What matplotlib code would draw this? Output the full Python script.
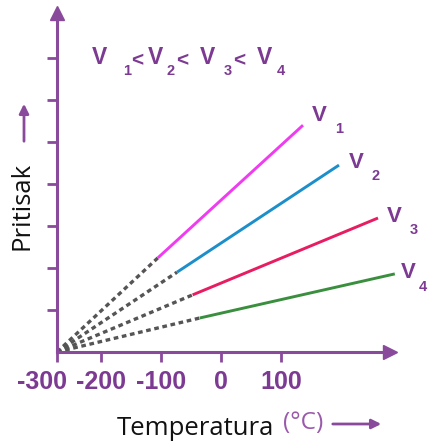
import matplotlib
matplotlib.use("Agg")
import matplotlib.pyplot as plt
from matplotlib.transforms import ScaledTranslation

# data (temperature in degC, pressure in arbitrary units)
volumes = ["1", "2", "3", "4"]
t_zero = -273
t_start = [-105, -73, -47, -35]
t_end = [137, 197, 262, 290]
p_start = [2.24, 1.90, 1.36, 0.81]
p_end = [5.40, 4.45, 3.19, 1.86]
colors = ["#f03cf0", "#1c8fcb", "#e81c62", "#3a8f3e"]
x_ticks = [-273, -200, -100, 0, 100]
x_ticklabels = ["-300", "-200", "-100", "0", "100"]
y_ticks = [1, 2, 3, 4, 5, 6, 7]

PURPLE = "#8a4a9c"
TXT_PURPLE = "#7c3a92"
W, H = 429, 445

fig = plt.figure(figsize=(W / 100, H / 100), dpi=100)
ax = fig.add_axes([57 / W, 93 / H, (390 - 57) / W, (432 - 93) / H])
ax.set_xlim(t_zero, 282)
ax.set_ylim(0, (352 - 13) / 42)

# dotted extrapolation to absolute zero, then the measured part
for i in range(len(volumes)):
    ax.plot([t_zero, t_start[i]], [0, p_start[i]], color="#555555", lw=2.4,
            linestyle=(0, (1.4, 1.1)), clip_on=False, zorder=2)
    ax.plot([t_start[i], t_end[i]], [p_start[i], p_end[i]], color=colors[i],
            lw=2.1, solid_capstyle="butt", clip_on=False, zorder=3)

# line labels
v_off = [(16, 10), (17, 3), (16, 2), (13, 1)]
sub_dx = [20, 20, 20, 15]
for i, v in enumerate(volumes):
    dx, dy = v_off[i]
    ax.annotate("V", (t_end[i], p_end[i]), xytext=(dx, dy),
                textcoords="offset pixels", ha="center", va="center",
                fontsize=16, fontweight="bold", color=TXT_PURPLE,
                family="Liberation Sans", annotation_clip=False)
    ax.annotate(v, (t_end[i], p_end[i]), xytext=(dx + sub_dx[i], dy - 14),
                textcoords="offset pixels", ha="center", va="center",
                fontsize=10.5, fontweight="bold", color=TXT_PURPLE,
                family="Liberation Sans", annotation_clip=False)

# axes styling
for s in ["top", "right"]:
    ax.spines[s].set_visible(False)
for s in ["left", "bottom"]:
    ax.spines[s].set_color(PURPLE)
    ax.spines[s].set_linewidth(2.2)
ax.plot(1, 0, ">", transform=ax.transAxes, clip_on=False, ms=10,
        color=PURPLE, mec=PURPLE)
ax.plot(0, 1, "^", transform=ax.transAxes, clip_on=False, ms=10,
        color=PURPLE, mec=PURPLE)

ax.set_xticks(x_ticks)
ax.set_xticklabels(x_ticklabels)
ax.set_yticks(y_ticks)
ax.tick_params(axis="both", direction="out", length=7, width=2, color=PURPLE)
ax.tick_params(axis="y", labelleft=False)
ax.tick_params(axis="x", pad=6, labelsize=18, labelcolor=TXT_PURPLE)
for lab in ax.get_xticklabels():
    lab.set_fontfamily("Liberation Sans")
    lab.set_fontweight("bold")
first = ax.get_xticklabels()[0]
first.set_transform(first.get_transform() +
                    ScaledTranslation(-15 / 100, 0, fig.dpi_scale_trans))
ax.patch.set_visible(False)


def ftext(x, y, s, **kw):
    fig.text(x / W, 1 - y / H, s, **kw)


# title: V1< V2< V3< V4
kw_big = dict(fontsize=16.5, fontweight="bold", color=TXT_PURPLE,
              family="Liberation Sans", ha="center", va="center")
kw_sub = dict(kw_big, fontsize=10.5)
v_x = [99.5, 155, 207, 264]
sub_x = [127, 171, 228, 281]
lt_x = [137, 182.5, 239.5]
for i, v in enumerate(volumes):
    ftext(v_x[i], 57, "V", **kw_big)
    ftext(sub_x[i], 71, v, **kw_sub)
for x in lt_x:
    ftext(x, 61, "<", **dict(kw_big, fontsize=15))

# axis labels with arrows
ftext(22, 206, "Pritisak", rotation=90, ha="center", va="center",
      fontsize=18.5, family="Open Sans", color="#111111")
ax.annotate("", xy=(24 / W, 1 - 101 / H), xytext=(24 / W, 1 - 144 / H),
            xycoords="figure fraction",
            arrowprops=dict(arrowstyle="-|>", color=PURPLE, lw=2,
                            mutation_scale=14))

ftext(117, 435, "Temperatura", ha="left", va="baseline",
      fontsize=18.5, family="Open Sans", color="#111111")
ftext(283, 429, "(°C)", ha="left", va="baseline",
      fontsize=17.5, family="Open Sans", color="#9a5aac")
ax.annotate("", xy=(384 / W, 1 - 424 / H), xytext=(330 / W, 1 - 424 / H),
            xycoords="figure fraction",
            arrowprops=dict(arrowstyle="-|>", color=PURPLE, lw=2,
                            mutation_scale=14))

fig.savefig("out.png", dpi=100)
